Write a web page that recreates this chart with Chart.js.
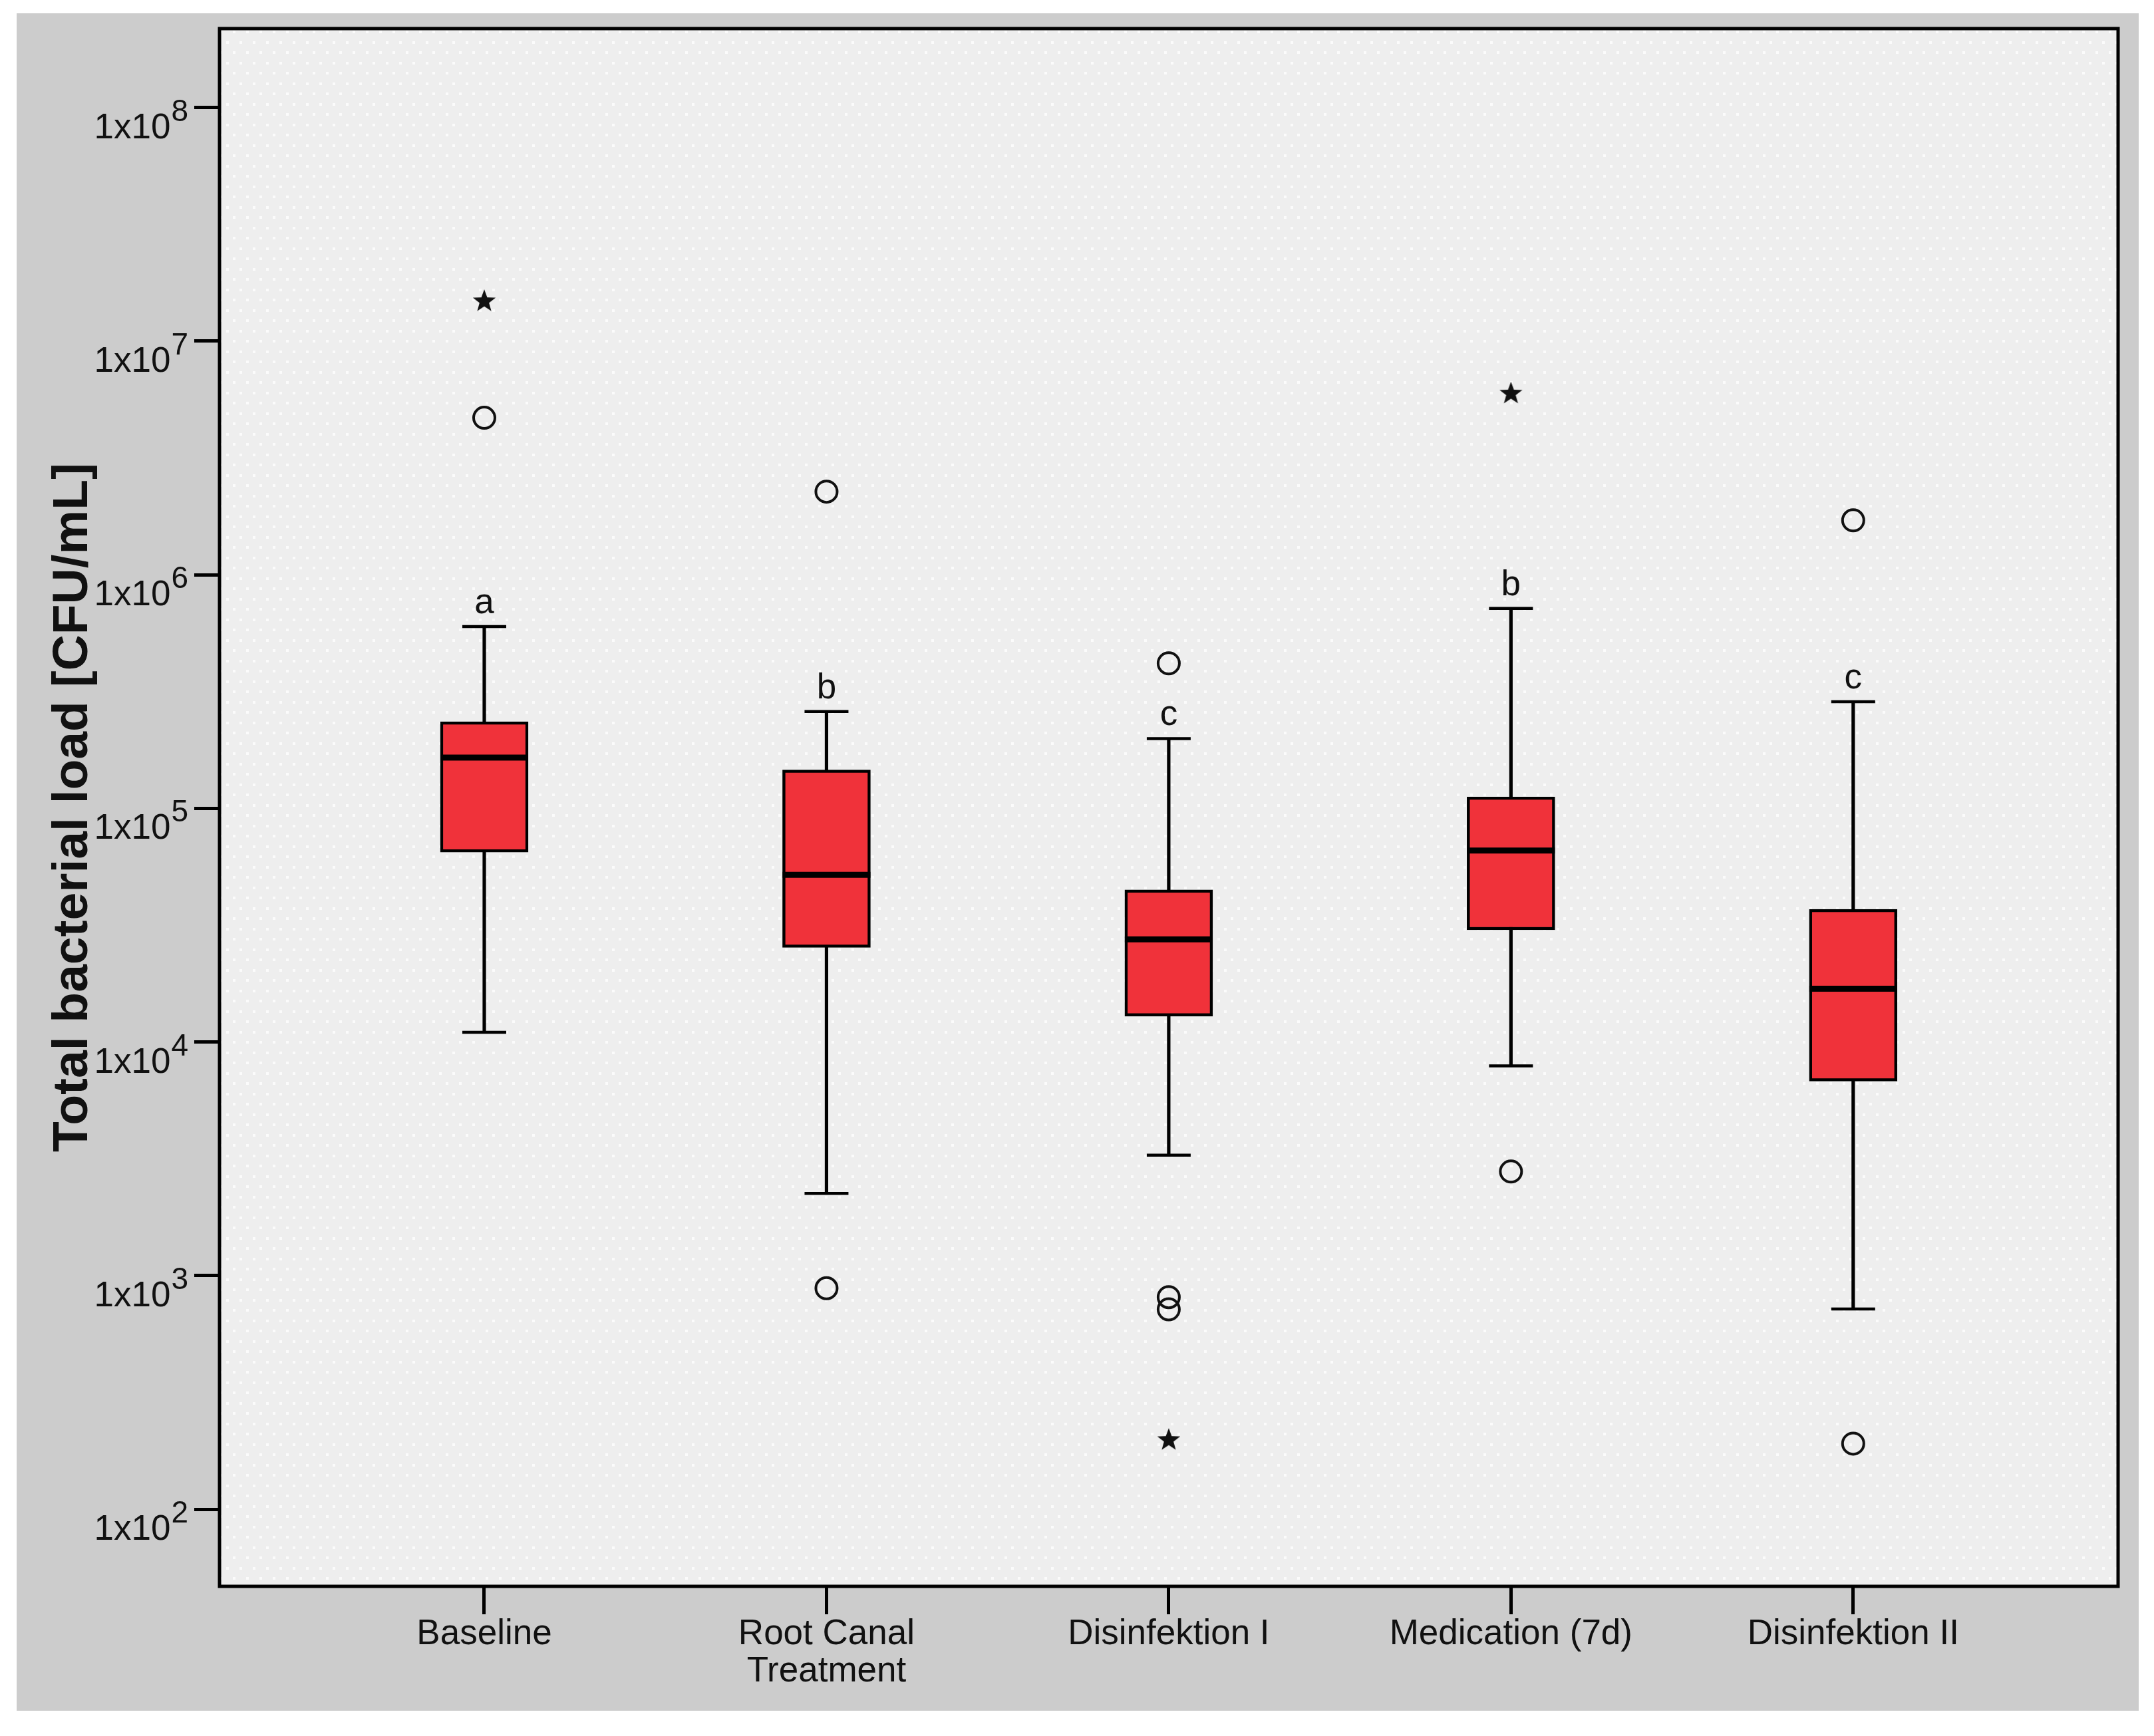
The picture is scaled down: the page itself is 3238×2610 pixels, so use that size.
<!DOCTYPE html>
<html>
<head>
<meta charset="utf-8">
<title>Total bacterial load</title>
<script src="https://cdn.jsdelivr.net/npm/chart.js@4.4.1/dist/chart.umd.min.js"></script>
<style>
  html, body { margin: 0; padding: 0; background: #fff; }
  canvas { display: block; }
</style>
</head>
<body>
<canvas id="chart" width="3238" height="2610"></canvas>
<script>
(function () {
  'use strict';

  /* ---- data ---- */
  var categories = ['Baseline', ['Root Canal', 'Treatment'], 'Disinfektion I', 'Medication (7d)', 'Disinfektion II'];
  var whiskerLow  = [1.1e4, 2.25e3, 3.28e3, 7.9e3, 7.2e2];
  var quart1      = [6.5e4, 2.54e4, 1.29e4, 3.02e4, 6.8e3];
  var medians     = [1.65e5, 5.2e4, 2.75e4, 6.6e4, 1.69e4];
  var quart3      = [2.35e5, 1.46e5, 4.48e4, 1.12e5, 3.7e4];
  var whiskerHigh = [6.0e5, 2.6e5, 1.99e5, 7.18e5, 2.86e5];
  var letters     = ['a', 'b', 'c', 'b', 'c'];

  // outliers (circles) and extremes (stars): group number + value
  var outlierGroup = [1, 2, 2, 3, 3, 3, 4, 5, 5];
  var outlierValue = [4.7e6, 2.27e6, 883, 4.18e5, 809, 717, 2.79e3, 1.71e6, 191];
  var extremeGroup = [1, 3, 4];
  var extremeValue = [1.49e7, 199, 6.0e6];

  var yExponents = [2, 3, 4, 5, 6, 7, 8];

  /* ---- helpers ---- */
  var FONT = "'Liberation Sans', Arial, sans-serif";
  var RED = '#f0323a';
  var INK = '#111111';

  function groupPoints(values) {
    return values.map(function (v, i) { return { x: i + 1, y: v }; });
  }

  function makeStar() {
    var c = document.createElement('canvas');
    c.width = 40; c.height = 40;
    var g = c.getContext('2d');
    g.fillStyle = INK;
    g.beginPath();
    for (var i = 0; i < 10; i++) {
      var r = i % 2 === 0 ? 18 : 7.5;
      var a = -Math.PI / 2 + i * Math.PI / 5;
      var px = 20 + r * Math.cos(a), py = 21 + r * Math.sin(a);
      if (i === 0) g.moveTo(px, py); else g.lineTo(px, py);
    }
    g.closePath();
    g.fill();
    return c;
  }

  function makeDotPattern(ctx) {
    var t = document.createElement('canvas');
    t.width = 20; t.height = 31;
    var g = t.getContext('2d');
    g.fillStyle = '#eeeeee';
    g.fillRect(0, 0, 20, 31);
    g.fillStyle = '#fbfbfb';
    g.fillRect(0, 0, 4, 4);
    g.fillRect(10, 15, 4, 4);
    return ctx.createPattern(t, 'repeat');
  }

  /* ---- decoration plugin: backgrounds, frame, y labels, title, letters ---- */
  var decor = {
    id: 'decor',
    beforeDraw: function (chart) {
      var ctx = chart.ctx, a = chart.chartArea;
      ctx.save();
      ctx.fillStyle = '#ffffff';
      ctx.fillRect(0, 0, chart.width, chart.height);
      ctx.fillStyle = '#cccccc';
      ctx.fillRect(25, 20, 3190, 2552);
      ctx.fillStyle = makeDotPattern(ctx);
      ctx.fillRect(a.left, a.top, a.right - a.left, a.bottom - a.top);
      ctx.restore();
    },
    afterDraw: function (chart) {
      var ctx = chart.ctx, a = chart.chartArea;
      var ys = chart.scales.y, xs = chart.scales.x;
      ctx.save();

      // plot frame
      ctx.strokeStyle = '#000';
      ctx.lineWidth = 5;
      ctx.strokeRect(a.left, a.top, a.right - a.left, a.bottom - a.top);

      // y tick labels 1x10^n
      ctx.fillStyle = INK;
      ctx.textBaseline = 'alphabetic';
      yExponents.forEach(function (e) {
        var y = ys.getPixelForValue(Math.pow(10, e));
        var right = 283;
        ctx.font = '46px ' + FONT;
        ctx.textAlign = 'right';
        var sup = String(e);
        var supW = ctx.measureText(sup).width;
        ctx.fillText(sup, right, y + 20);
        ctx.font = '53px ' + FONT;
        ctx.fillText('1x10', right - supW - 1, y + 46);
      });

      // y axis title
      ctx.save();
      ctx.translate(131, (a.top + a.bottom) / 2);
      ctx.rotate(-Math.PI / 2);
      ctx.font = 'bold 75px ' + FONT;
      ctx.textAlign = 'center';
      ctx.textBaseline = 'alphabetic';
      ctx.fillText('Total bacterial load [CFU/mL]', 0, 0);
      ctx.restore();

      // significance letters above the upper whiskers
      ctx.font = '53px ' + FONT;
      ctx.textAlign = 'center';
      letters.forEach(function (l, i) {
        var x = xs.getPixelForValue(i + 1);
        var y = ys.getPixelForValue(whiskerHigh[i]);
        ctx.fillText(l, x, y - 20);
      });

      ctx.restore();
    }
  };

  var ctx = document.getElementById('chart').getContext('2d');

  new Chart(ctx, {
    type: 'bar',
    data: {
      datasets: [
        {
          label: 'whiskers',
          data: whiskerLow.map(function (lo, i) { return { x: i + 1, y: [lo, whiskerHigh[i]] }; }),
          backgroundColor: '#000',
          borderWidth: 0,
          barThickness: 4.5,
          grouped: false,
          order: 10
        },
        {
          label: 'boxes',
          data: quart1.map(function (q, i) { return { x: i + 1, y: [q, quart3[i]] }; }),
          backgroundColor: RED,
          borderColor: '#000',
          borderWidth: 4.5,
          borderSkipped: false,
          barThickness: 132,
          grouped: false,
          order: 5
        },
        {
          type: 'scatter',
          label: 'caps',
          data: groupPoints(whiskerLow).concat(groupPoints(whiskerHigh)),
          pointStyle: 'line',
          pointRadius: 33,
          borderColor: '#000',
          borderWidth: 4.5,
          order: 3
        },
        {
          type: 'scatter',
          label: 'medians',
          data: groupPoints(medians),
          pointStyle: 'line',
          pointRadius: 66,
          borderColor: '#000',
          borderWidth: 9,
          order: 2
        },
        {
          type: 'scatter',
          label: 'outliers',
          data: outlierGroup.map(function (g, i) { return { x: g, y: outlierValue[i] }; }),
          pointStyle: 'circle',
          pointRadius: 16,
          backgroundColor: 'rgba(0,0,0,0)',
          borderColor: INK,
          borderWidth: 4,
          order: 1
        },
        {
          type: 'scatter',
          label: 'extremes',
          data: extremeGroup.map(function (g, i) { return { x: g, y: extremeValue[i] }; }),
          pointStyle: makeStar(),
          pointRadius: 18,
          order: 0
        }
      ]
    },
    options: {
      responsive: false,
      devicePixelRatio: 1,
      animation: false,
      events: [],
      layout: { autoPadding: false, padding: { left: 0, top: 43, right: 54, bottom: 0 } },
      plugins: { legend: { display: false }, tooltip: { enabled: false } },
      scales: {
        x: {
          type: 'linear',
          min: 0.2264,
          max: 5.774,
          offset: false,
          border: { display: false },
          grid: { offset: false, drawOnChartArea: false, drawTicks: true, tickLength: 42, lineWidth: 5, color: '#000' },
          ticks: {
            autoSkip: false,
            maxRotation: 0,
            padding: 2,
            color: INK,
            font: { family: FONT, size: 53, lineHeight: 1.06 },
            callback: function (v, i) { return categories[i]; }
          },
          afterBuildTicks: function (scale) {
            scale.ticks = categories.map(function (c, i) { return { value: i + 1 }; });
          },
          afterFit: function (scale) { scale.height = 225; }
        },
        y: {
          type: 'logarithmic',
          min: Math.pow(10, 1.670),
          max: Math.pow(10, 8.338),
          border: { display: false },
          grid: { drawOnChartArea: false, drawTicks: true, tickLength: 38, lineWidth: 5, color: '#000' },
          ticks: { callback: function () { return ''; } },
          afterBuildTicks: function (scale) {
            scale.ticks = yExponents.map(function (e) { return { value: Math.pow(10, e) }; });
          },
          afterFit: function (scale) { scale.width = 330; }
        }
      }
    },
    plugins: [decor]
  });
}());
</script>
</body>
</html>
